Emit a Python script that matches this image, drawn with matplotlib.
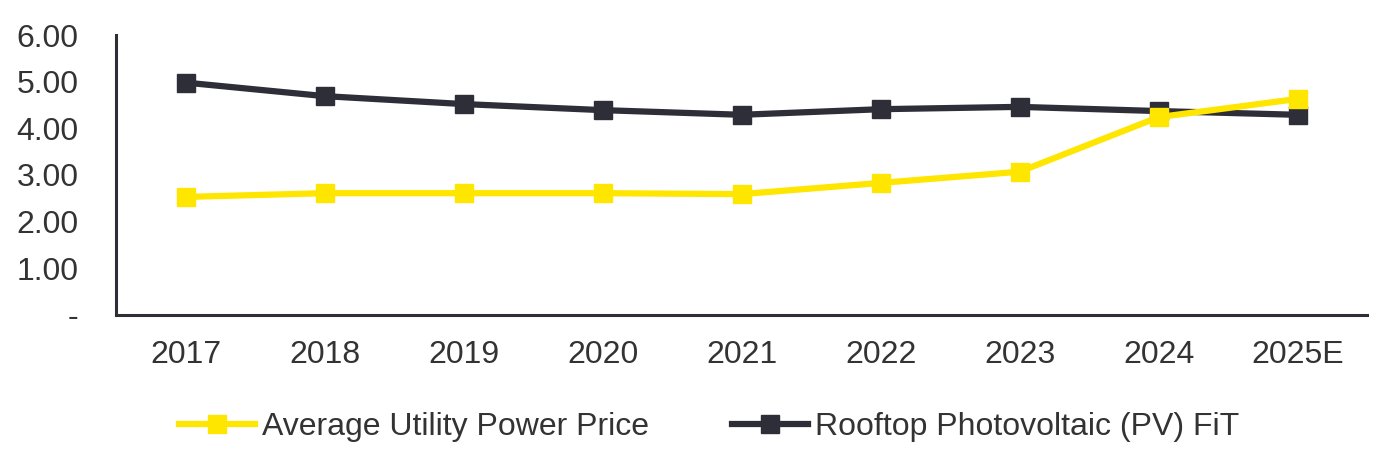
import numpy as np
import matplotlib.pyplot as plt

plt.rcParams['font.family'] = ['Liberation Sans', 'DejaVu Sans']

# data
years = ['2017', '2018', '2019', '2020', '2021', '2022', '2023', '2024', '2025E']
utility_price = [2.53, 2.61, 2.61, 2.61, 2.59, 2.83, 3.07, 4.24, 4.63]
rooftop_fit = [4.98, 4.69, 4.52, 4.39, 4.29, 4.41, 4.46, 4.37, 4.29]
ytick_vals = [0, 1, 2, 3, 4, 5, 6]
ytick_labels = ['-', '1.00', '2.00', '3.00', '4.00', '5.00', '6.00']

yellow = '#FFE600'
dark = '#2E2E38'
txt = '#333333'

fig = plt.figure(figsize=(13.9, 4.63), dpi=100)
ax = fig.add_axes([0.0835, 0.3197, 0.9, 0.6047])

x = np.arange(len(years))
ax.plot(x, utility_price, color=yellow, lw=4.5, marker='s', ms=12.5,
        label='Average Utility Power Price', zorder=3)
ax.plot(x, rooftop_fit, color=dark, lw=4.5, marker='s', ms=12.5,
        label='Rooftop Photovoltaic (PV) FiT', zorder=2)

ax.set_xlim(-0.5, len(years) - 0.5)
ax.set_ylim(0, 6)
ax.set_xticks(x)
ax.set_xticklabels(years)
ax.set_yticks(ytick_vals)
ax.set_yticklabels(ytick_labels)
ax.tick_params(axis='both', length=0, labelsize=23, labelcolor=txt)
ax.tick_params(axis='x', pad=18)
ax.tick_params(axis='y', pad=27)

for s in ['top', 'right']:
    ax.spines[s].set_visible(False)
for s in ['left', 'bottom']:
    ax.spines[s].set_color(dark)
    ax.spines[s].set_linewidth(2.2)

leg = fig.legend(loc='center', bbox_to_anchor=(0.51, 0.078), ncol=2,
                 frameon=False, fontsize=23, handlelength=2.4,
                 handletextpad=0.2, columnspacing=2.6)
for t in leg.get_texts():
    t.set_color(txt)

fig.savefig('out.png', dpi=100)
